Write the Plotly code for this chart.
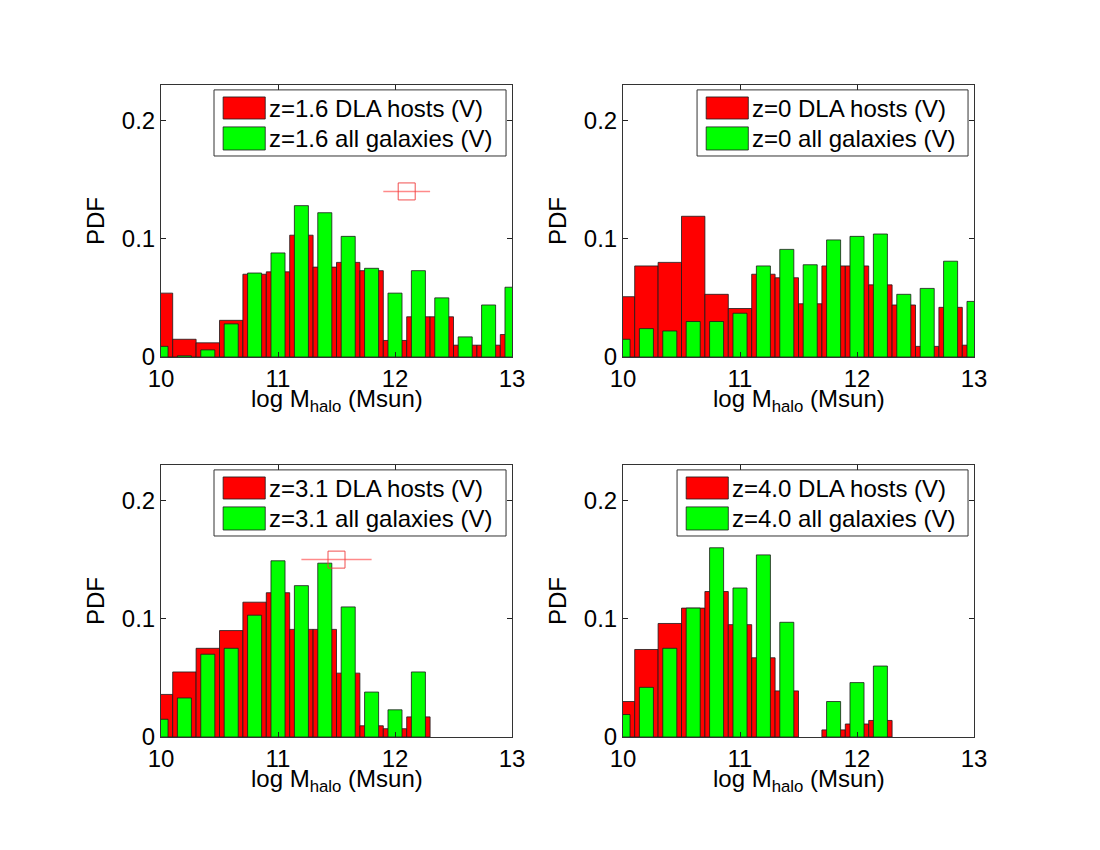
import plotly.graph_objects as go

# bin centres of log M_halo (Msun)
bin_centers = [10.0, 10.2, 10.4, 10.6, 10.8, 11.0, 11.2, 11.4,
               11.6, 11.8, 12.0, 12.2, 12.4, 12.6, 12.8, 13.0]

# PDF values (None = empty bin)
z16_dla = [0.054, 0.015, 0.012, 0.031, 0.070, 0.072, 0.103, 0.076,
           0.080, 0.073, 0.014, 0.034, 0.034, 0.010, 0.010, 0.019]
z16_all = [0.009, 0.001, 0.006, 0.028, 0.071, 0.088, 0.128, 0.122,
           0.102, 0.075, 0.054, 0.073, 0.050, 0.017, 0.044, 0.059]

z0_dla = [0.051, 0.077, 0.080, 0.119, 0.053, 0.041, 0.070, 0.067,
          0.045, 0.077, 0.077, 0.061, 0.044, 0.009, 0.042, 0.010]
z0_all = [0.015, 0.024, 0.022, 0.030, 0.030, 0.037, 0.077, 0.091,
          0.078, 0.099, 0.102, 0.104, 0.053, 0.058, 0.081, 0.047]

z31_dla = [0.036, 0.055, 0.075, 0.090, 0.114, 0.122, 0.091, 0.091,
           0.054, 0.0095, 0.007, 0.017, None, None, None, None]
z31_all = [0.015, 0.033, 0.070, 0.075, 0.103, 0.149, 0.128, 0.147,
           0.110, 0.038, 0.023, 0.055, None, None, None, None]

z40_dla = [0.030, 0.074, 0.096, 0.109, 0.123, 0.095, 0.067, 0.039,
           None, 0.006, 0.011, 0.014, None, None, None, None]
z40_all = [0.019, 0.042, 0.075, 0.109, 0.160, 0.126, 0.154, 0.097,
           None, 0.030, 0.046, 0.060, None, None, None, None]

# observed DLA host mass estimates (x, y, x error)
obs_z16 = (12.1, 0.14, 0.2)
obs_z31 = (11.5, 0.15, 0.3)

panels = [
    # (redshift label, dla, all, observation, legend box left edge in axis domain)
    ('1.6', z16_dla, z16_all, obs_z16, 0.151),
    ('0', z0_dla, z0_all, None, 0.211),
    ('3.1', z31_dla, z31_all, obs_z31, 0.151),
    ('4.0', z40_dla, z40_all, None, 0.154),
]

FONT = 'Liberation Sans, Arial, Helvetica, sans-serif'
FS = 24
W, H = 1100, 850
# page is drawn with an 8px body margin, so pull the axes back by that much
x_doms = [(153 / W, 504 / W), (615 / W, 966 / W)]
y_doms = [(1 - 349 / H, 1 - 77 / H), (1 - 729 / H, 1 - 457 / H)]

fig = go.Figure()
shapes = []
annotations = []

for i, (zlab, dla, allg, obs, box_left) in enumerate(panels):
    n = i + 1
    xa = 'x' if n == 1 else f'x{n}'
    ya = 'y' if n == 1 else f'y{n}'

    fig.add_trace(go.Bar(x=bin_centers, y=dla, width=0.2, xaxis=xa, yaxis=ya,
                         marker=dict(color='#ff0000', line=dict(color='#1a1a1a', width=0.8)),
                         showlegend=False, name=f'z={zlab} DLA hosts (V)'))
    fig.add_trace(go.Bar(x=bin_centers, y=allg, width=0.12, xaxis=xa, yaxis=ya,
                         marker=dict(color='#00ff00', line=dict(color='#1a1a1a', width=0.8)),
                         showlegend=False, name=f'z={zlab} all galaxies (V)'))
    if obs is not None:
        fig.add_trace(go.Scatter(x=[obs[0]], y=[obs[1]], xaxis=xa, yaxis=ya, mode='markers',
                                 marker=dict(symbol='square-open', size=17, color='rgba(240,60,60,0.9)',
                                             line=dict(width=1)),
                                 error_x=dict(type='data', array=[obs[2]], color='rgba(255,60,60,0.6)',
                                              thickness=1.5, width=0),
                                 showlegend=False, cliponaxis=False))

    r, c = divmod(i, 2)
    axis_common = dict(showline=True, mirror='ticks', linecolor='#333', linewidth=1,
                       ticks='inside', ticklen=5, tickcolor='#222', showgrid=False, zeroline=False,
                       automargin=False, tickfont=dict(family=FONT, size=FS, color='black'))
    fig.layout[xa.replace('x', 'xaxis')] = dict(
        axis_common, domain=x_doms[c], range=[10, 13], anchor=ya,
        tickvals=[10, 11, 12, 13], ticktext=['10', '11', '12', '13'])
    fig.layout[ya.replace('y', 'yaxis')] = dict(
        axis_common, domain=y_doms[r], range=[0, 0.23], anchor=xa,
        tickvals=[0, 0.1, 0.2], ticktext=['0', '0.1', '0.2'],
        title=dict(text='PDF', standoff=10, font=dict(family=FONT, size=FS, color='black')))

    xd, yd = f'{xa} domain', f'{ya} domain'
    # x title sits tight under the tick labels, as in MATLAB
    annotations.append(dict(xref=xd, yref=yd, x=0.5, y=0, yanchor='top', yshift=-26,
                            text='log M<sub>halo</sub> (Msun)', showarrow=False,
                            font=dict(family=FONT, size=FS, color='black')))

    # legend drawn inside the axes, MATLAB style
    shapes.append(dict(type='rect', xref=xd, yref=yd, x0=box_left, x1=0.983, y0=0.739, y1=0.982,
                       fillcolor='white', line=dict(color='#333', width=1), layer='above'))
    sw0 = box_left + 0.026
    sw1 = sw0 + 0.12
    for (y0, y1, yc, col, txt) in [(0.875, 0.956, 0.915, '#ff0000', f'z={zlab} DLA hosts (V)'),
                                   (0.761, 0.846, 0.805, '#00ff00', f'z={zlab} all galaxies (V)')]:
        shapes.append(dict(type='rect', xref=xd, yref=yd, x0=sw0, x1=sw1, y0=y0, y1=y1,
                           fillcolor=col, line=dict(color='#1a1a1a', width=0.8), layer='above'))
        annotations.append(dict(xref=xd, yref=yd, x=sw1 + 0.006, y=yc, text=txt, showarrow=False,
                                xanchor='left', yanchor='middle',
                                font=dict(family=FONT, size=FS, color='black')))

fig.update_layout(width=W, height=H, margin=dict(l=0, r=0, t=0, b=0),
                  paper_bgcolor='white', plot_bgcolor='white', barmode='overlay',
                  shapes=shapes, annotations=annotations, font=dict(family=FONT, color='black'))

fig.write_html('out.html')
